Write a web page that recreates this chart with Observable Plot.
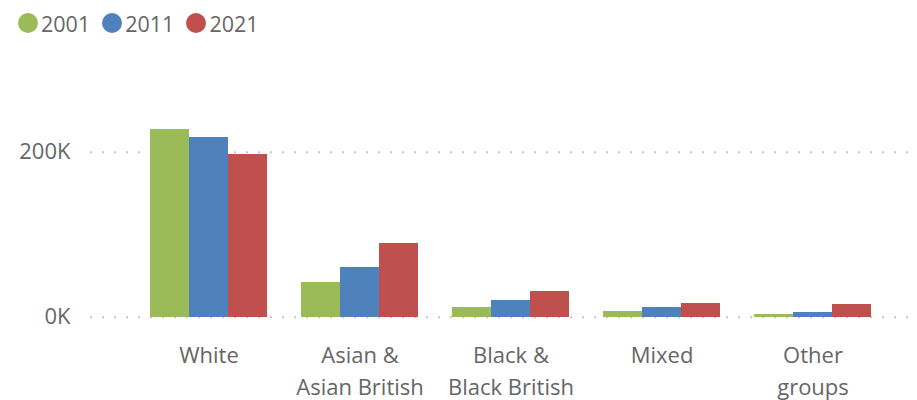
<!DOCTYPE html>
<html>
<head>
<meta charset="utf-8">
<script src="https://cdn.jsdelivr.net/npm/d3@7"></script>
<script src="https://cdn.jsdelivr.net/npm/@observablehq/plot@0.6"></script>
<style>
  html, body { margin: 0; padding: 0; background: #fff; }
  body { font-family: "Segoe UI", "Open Sans", sans-serif; color: #666; }
  #legend { height: 45px; display: flex; align-items: center; padding-left: 18px; box-sizing: border-box; padding-top: 1px; }
  .item { display: flex; align-items: center; margin-right: 12px; font-size: 21.5px; }
  .dot { width: 20px; height: 20px; border-radius: 50%; margin-right: 3px; }
</style>
</head>
<body>
<div id="legend"></div>
<div id="chart"></div>
<script>
// Population by ethnic group, census years 2001, 2011 and 2021
const categories = ["White", "Asian & Asian British", "Black & Black British", "Mixed", "Other groups"];
const categoryLabels = ["White", "Asian &\nAsian British", "Black &\nBlack British", "Mixed", "Other\ngroups"];
const years = ["2001", "2011", "2021"];
const colors = ["#9BBB59", "#4F81BD", "#C0504D"];
const values2001 = [227500, 42000, 11700, 6900, 3300];
const values2011 = [217800, 60200, 20200, 11700, 5700];
const values2021 = [197200, 89300, 31100, 16600, 15400];
const yTicks = [0, 200000];

const series = [values2001, values2011, values2021];
const rows = years.flatMap((year, i) =>
  categories.map((category, j) => ({year, category, value: series[i][j]}))
);

// Legend
const legend = document.getElementById("legend");
years.forEach((year, i) => {
  const item = document.createElement("div");
  item.className = "item";
  const dot = document.createElement("span");
  dot.className = "dot";
  dot.style.background = colors[i];
  item.appendChild(dot);
  item.appendChild(document.createTextNode(year));
  legend.appendChild(item);
});

const width = 917;
const height = 355;
const marginLeft = 90;
const marginRight = 9;
const marginBottom = 83.3;
const xRange = [marginLeft, width - marginRight];
const xOpts = {paddingInner: 0.224, paddingOuter: 0.32, align: 0.62, round: true};

// Band width of each category group, from the same band settings the x scale uses
const band = d3.scaleBand(categories, xRange)
  .paddingInner(xOpts.paddingInner)
  .paddingOuter(xOpts.paddingOuter)
  .align(xOpts.align)
  .round(true);
const slot = band.bandwidth() / years.length;

const labelOf = new Map(categories.map((c, i) => [c, categoryLabels[i]]));

const chart = Plot.plot({
  width,
  height,
  marginLeft,
  marginRight,
  marginTop: 0,
  marginBottom,
  style: {fontFamily: "'Segoe UI', 'Open Sans', sans-serif", fontSize: "22px", color: "#666", background: "#fff", overflow: "visible"},
  x: {type: "band", domain: categories, range: xRange, ...xOpts},
  y: {domain: [0, 200000], range: [height - marginBottom, height - marginBottom - 165]},
  color: {domain: years, range: colors},
  marks: [
    Plot.ruleY(yTicks, {stroke: "#c8c8c8", strokeWidth: 2, strokeDasharray: "2,10"}),
    ...years.map((year, i) =>
      Plot.barY(rows.filter(d => d.year === year), {
        x: "category",
        y: "value",
        fill: "year",
        insetLeft: i * slot,
        insetRight: (years.length - 1 - i) * slot,
        shapeRendering: "crispEdges"
      })
    ),
    Plot.axisY(yTicks, {
      tickSize: 0,
      tickPadding: 20,
      tickFormat: d => `${d / 1000}K`,
      fill: "#666",
      fontSize: 22,
      label: null
    }),
    Plot.axisX({
      tickSize: 0,
      tickPadding: 23,
      tickFormat: d => labelOf.get(d),
      lineHeight: 1.45,
      fill: "#666",
      fontSize: 22,
      label: null
    })
  ]
});

document.getElementById("chart").appendChild(chart);
</script>
</body>
</html>
